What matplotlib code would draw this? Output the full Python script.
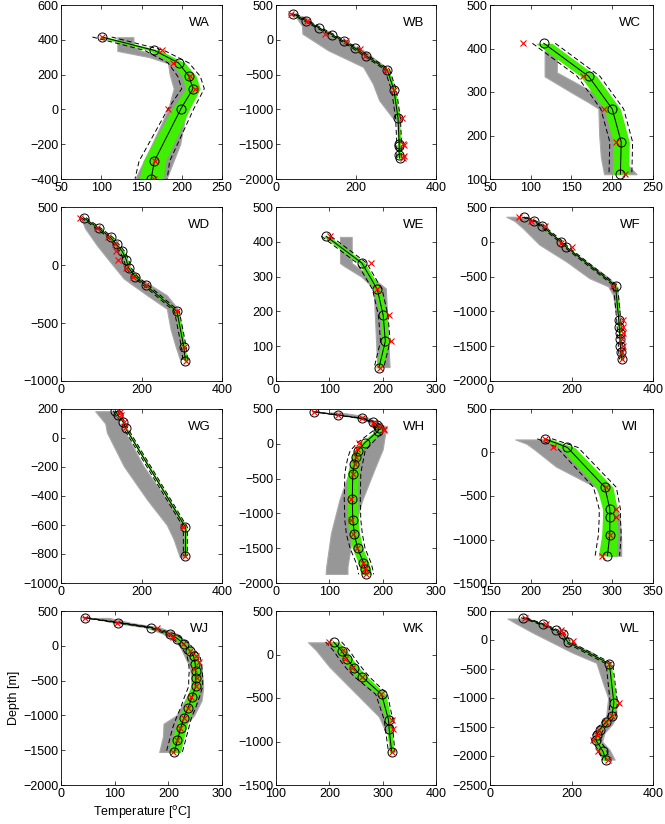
import numpy as np
import matplotlib
matplotlib.use("Agg")
import matplotlib.pyplot as plt

plt.rcParams['font.family'] = ['Liberation Sans', 'DejaVu Sans']
plt.rcParams['font.size'] = 9

# ---- WA ----
wa_z = [416, 339, 267, 190, 119, 4, -297, -398]
wa_t = [101, 166, 196, 209, 214, 199, 166, 162]
wa_xz = [416, 343, 267, 190, 119, 4, -297, -398]
wa_xt = [101, 175, 189, 210, 216, 183, 167, 166]
wa_band = [6, 7, 8, 9, 9, 11, 14, 15]
wa_dash = [12, 12, 13, 14, 14, 16, 19, 20]
wa_gz = [415, 360, 336, 300, 265, 200, 120, 0, -200, -400]
wa_glo = [120, 120, 120, 160, 183, 185, 190, 183, 163, 142]
wa_ghi = [140, 140, 150, 185, 203, 208, 212, 206, 198, 181]

# ---- WB ----
wb_z = [375, 270, 170, 74, -22, -118, -233, -429, -726, -1124, -1490, -1530, -1660, -1700]
wb_t = [43, 76, 108, 140, 170, 197, 226, 278, 295, 305, 308, 308, 308, 309]
wb_xz = [375, 270, 88, -22, -127, -233, -429, -726, -1124, -1490, -1510, -1670, -1700]
wb_xt = [37, 78, 122, 174, 210, 223, 275, 295, 314, 318, 320, 319, 318]
wb_band = 4
wb_dash = 6
wb_gz = [350, 328, 200, 88, -150, -390, -630, -870, -1110, -1180]
wb_glo = [45, 50, 65, 66, 130, 218, 242, 258, 290, 305]
wb_ghi = [55, 74, 100, 130, 218, 274, 286, 298, 310, 315]

# ---- WC ----
wc_z = [412, 336, 261, 185, 111]
wc_t = [116, 171, 200, 211, 210]
wc_xz = [412, 336, 261, 185, 111]
wc_xt = [90, 164, 190, 205, 216]
wc_band = 10
wc_dash = 14
wc_gz = [395, 345, 336, 300, 275, 262, 200, 150, 111]
wc_glo = [117, 117, 117, 149, 172, 183, 184, 186, 190]
wc_ghi = [132, 132, 141, 176, 200, 202, 205, 210, 230]

# ---- WD ----
wd_z = [408, 315, 238, 177, 119, 47, -25, -103, -175, -400, -703, -824]
wd_t = [56, 94, 123, 138, 152, 162, 168, 185, 211, 288, 305, 309]
wd_xz = [408, 315, 238, 177, 119, 47, -25, -103, -175, -400, -703, -824]
wd_xt = [48, 89, 118, 135, 137, 141, 161, 180, 210, 287, 306, 310]
wd_band = 4
wd_dash = 6
wd_gz = [400, 315, 171, 27, -117, -261, -377, -550, -694, -810]
wd_glo = [50, 60, 89, 122, 156, 214, 263, 272, 284, 295]
wd_ghi = [56, 97, 139, 160, 197, 263, 290, 300, 305, 310]

# ---- WE ----
we_z = [416, 339, 263, 189, 114, 38]
we_t = [94, 161, 190, 201, 205, 193]
we_xz = [416, 339, 263, 189, 114, 38]
we_xt = [102, 178, 190, 211, 216, 195]
we_band = 6
we_dash = 9
we_gz = [414, 339, 330, 300, 266, 200, 100, 40]
we_glo = [120, 120, 128, 160, 183, 185, 188, 190]
we_ghi = [142, 142, 150, 178, 206, 208, 211, 213]

# ---- WF ----
wf_z = [355, 297, 225, 0, -74, -629, -1126, -1220, -1310, -1400, -1500, -1590, -1690]
wf_t = [84, 109, 128, 175, 187, 308, 316, 317, 318, 319, 320, 321, 323]
wf_xz = [355, 297, 225, -16, -74, -629, -1126, -1220, -1310, -1400, -1500, -1590, -1690]
wf_xt = [70, 101, 134, 175, 202, 303, 326, 326, 326, 325, 326, 325, 324]
wf_band = 3
wf_dash = 5
wf_gz = [360, 300, 200, -40, -282, -523, -640, -764, -1000]
wf_glo = [40, 60, 80, 121, 187, 244, 290, 302, 308]
wf_ghi = [76, 100, 138, 179, 236, 293, 310, 314, 318]

# ---- WG ----
wg_z = [188, 158, 112, 66, -615, -812]
wg_t = [135, 141, 154, 161, 309, 309]
wg_xz = [177, 158, 112, 66, -615, -812]
wg_xt = [147, 149, 156, 158, 303, 307]
wg_band = 3
wg_dash = 5
wg_gz = [185, 100, 38, -194, -425, -600, -700, -820]
wg_glo = [85, 110, 114, 156, 214, 263, 280, 295]
wg_ghi = [135, 145, 160, 205, 263, 303, 305, 310]

# ---- WH ----
wh_z = [461, 413, 365, 317, 268, 220, 186, 17, -103, -190, -296, -427, -789, -1093, -1300, -1503, -1706, -1793, -1875]
wh_t = [71, 116, 161, 181, 190, 193, 192, 167, 153, 150, 147, 144, 143, 144, 147, 153, 164, 167, 169]
wh_xz = [461, 413, 365, 300, 250, 210, 196, 17, -80, -190, -296, -427, -789, -1093, -1300, -1503, -1706, -1793, -1875]
wh_xt = [71, 117, 162, 182, 193, 203, 203, 156, 151, 150, 148, 145, 140, 141, 144, 151, 164, 167, 169]
wh_band = [2, 2, 3, 3, 4, 5, 6, 8, 8, 9, 9, 10, 10, 10, 10, 10, 10, 10, 10]
wh_dash = [3, 3, 4, 5, 6, 8, 10, 14, 14, 15, 15, 15, 15, 15, 15, 14, 14, 14, 14]
wh_gz = [450, 400, 330, 250, 162, -80, -320, -803, -1286, -1770, -1870]
wh_glo = [100, 140, 170, 185, 187, 162, 141, 119, 103, 94, 93]
wh_ghi = [120, 165, 185, 205, 205, 200, 187, 162, 144, 134, 134]

# ---- WI ----
wi_z = [158, 58, -400, -650, -746, -950, -1188]
wi_t = [217, 245, 291, 297, 297, 297, 294]
wi_xz = [158, 58, -400, -650, -746, -950, -1188]
wi_xt = [217, 227, 292, 305, 304, 297, 287]
wi_band = [6, 9, 10, 9, 9, 10, 11]
wi_dash = [9, 13, 14, 13, 13, 14, 15]
wi_gz = [150, 100, 31, -162, -400, -738, -1000, -1188]
wi_glo = [181, 195, 205, 231, 280, 297, 297, 295]
wi_ghi = [215, 230, 239, 268, 297, 309, 311, 311]

# ---- WJ ----
wj_z = [404, 332, 261, 174, 103, 21, -75, -151, -257, -362, -458, -582, -736, -889, -1033, -1181, -1358, -1531]
wj_t = [44, 107, 168, 203, 217, 230, 240, 247, 250, 251, 251, 251, 244, 237, 229, 223, 217, 211]
wj_xz = [404, 332, 261, 174, 120, 21, -75, -151, -233, -328, -458, -582, -736, -889, -1033, -1181, -1358, -1531]
wj_xt = [45, 104, 178, 201, 209, 227, 240, 251, 257, 247, 253, 251, 242, 237, 229, 222, 217, 208]
wj_band = [2, 3, 4, 5, 6, 7, 8, 8, 8, 8, 9, 9, 10, 10, 10, 10, 11, 11]
wj_dash = [4, 5, 6, 8, 9, 10, 11, 12, 12, 12, 13, 13, 14, 14, 14, 15, 15, 15]
wj_gz = [400, 330, 261, 174, 50, -17, -305, -600, -784, -1000, -1119, -1300, -1526]
wj_glo = [60, 100, 160, 190, 215, 222, 240, 245, 231, 215, 191, 190, 183]
wj_ghi = [90, 130, 185, 215, 235, 240, 262, 265, 262, 248, 234, 228, 222]

# ---- WK ----
wk_z = [145, 42, -57, -160, -256, -458, -752, -851, -1126]
wk_t = [208, 223, 234, 247, 261, 298, 311, 312, 317]
wk_xz = [145, 50, -57, -160, -256, -458, -752, -851, -1126]
wk_xt = [199, 226, 230, 243, 262, 296, 317, 320, 318]
wk_band = [10, 10, 10, 10, 10, 8, 5, 5, 4]
wk_dash = [15, 15, 15, 15, 14, 11, 8, 7, 6]
wk_gz = [140, 50, -141, -332, -523, -714, -880]
wk_glo = [160, 175, 200, 231, 262, 293, 305]
wk_ghi = [212, 225, 250, 275, 300, 312, 316]

# ---- WL ----
wl_z = [385, 270, 172, 97, -35, -410, -1083, -1313, -1411, -1544, -1642, -1716, -1918, -2073]
wl_t = [82, 129, 161, 179, 191, 293, 304, 299, 285, 269, 262, 259, 277, 285]
wl_xz = [385, 270, 172, 120, -18, -410, -1083, -1313, -1411, -1544, -1642, -1716, -1918, -2073]
wl_xt = [87, 138, 175, 178, 203, 293, 316, 299, 284, 268, 262, 253, 265, 289]
wl_band = [3, 3, 3, 4, 4, 5, 6, 6, 6, 6, 7, 7, 7, 6]
wl_dash = [6, 6, 6, 7, 7, 8, 9, 9, 9, 9, 10, 10, 10, 9]
wl_gz = [370, 300, 126, -47, -220, -393, -738, -1000, -1313, -1450, -1600, -1750, -1890, -2062]
wl_glo = [43, 60, 105, 154, 203, 261, 277, 290, 285, 270, 256, 255, 261, 277]
wl_ghi = [93, 120, 170, 199, 252, 285, 302, 310, 310, 300, 281, 275, 293, 306]

names = ['WA', 'WB', 'WC', 'WD', 'WE', 'WF', 'WG', 'WH', 'WI', 'WJ', 'WK', 'WL']
xlims = [(50, 250), (0, 400), (50, 250), (0, 400), (0, 300), (0, 400),
         (0, 400), (0, 300), (150, 350), (0, 300), (100, 400), (0, 400)]
ylims = [(-400, 600), (-2000, 500), (100, 500), (-1000, 500), (0, 500), (-2000, 500),
         (-1000, 200), (-2000, 500), (-1500, 500), (-2000, 500), (-1500, 500), (-2500, 500)]
xsteps = [50, 200, 50, 200, 100, 200, 200, 100, 50, 100, 100, 200]
ysteps = [200, 500, 100, 500, 100, 500, 200, 500, 500, 500, 500, 500]

wells = [
    (wa_z, wa_t, wa_xz, wa_xt, wa_band, wa_dash, wa_gz, wa_glo, wa_ghi),
    (wb_z, wb_t, wb_xz, wb_xt, wb_band, wb_dash, wb_gz, wb_glo, wb_ghi),
    (wc_z, wc_t, wc_xz, wc_xt, wc_band, wc_dash, wc_gz, wc_glo, wc_ghi),
    (wd_z, wd_t, wd_xz, wd_xt, wd_band, wd_dash, wd_gz, wd_glo, wd_ghi),
    (we_z, we_t, we_xz, we_xt, we_band, we_dash, we_gz, we_glo, we_ghi),
    (wf_z, wf_t, wf_xz, wf_xt, wf_band, wf_dash, wf_gz, wf_glo, wf_ghi),
    (wg_z, wg_t, wg_xz, wg_xt, wg_band, wg_dash, wg_gz, wg_glo, wg_ghi),
    (wh_z, wh_t, wh_xz, wh_xt, wh_band, wh_dash, wh_gz, wh_glo, wh_ghi),
    (wi_z, wi_t, wi_xz, wi_xt, wi_band, wi_dash, wi_gz, wi_glo, wi_ghi),
    (wj_z, wj_t, wj_xz, wj_xt, wj_band, wj_dash, wj_gz, wj_glo, wj_ghi),
    (wk_z, wk_t, wk_xz, wk_xt, wk_band, wk_dash, wk_gz, wk_glo, wk_ghi),
    (wl_z, wl_t, wl_xz, wl_xt, wl_band, wl_dash, wl_gz, wl_glo, wl_ghi),
]

W, H = 665, 824
fig = plt.figure(figsize=(W / 100, H / 100), dpi=100)

col_left = [61, 276, 490]
col_w = [161, 160, 163]
row_top = [5, 207, 409, 611]
row_h = 174

gray = '#979797'
green = '#3ff000'

for i, name in enumerate(names):
    r, c = divmod(i, 3)
    ax = fig.add_axes([col_left[c] / W, 1 - (row_top[r] + row_h) / H,
                       col_w[c] / W, row_h / H])
    z, t, xz, xt, band, dash, gz, glo, ghi = wells[i]
    z = np.array(z, float)
    t = np.array(t, float)
    band = np.broadcast_to(np.array(band, float), t.shape)
    dash = np.broadcast_to(np.array(dash, float), t.shape)

    ax.fill_betweenx(gz, glo, ghi, color=gray, lw=0.8, ec='#a8a8a8', zorder=1)
    ax.fill_betweenx(z, t - band, t + band, color=green, lw=0, zorder=2)
    ax.plot(t - dash, z, color='k', lw=0.7, dashes=(5, 3), zorder=3)
    ax.plot(t + dash, z, color='k', lw=0.7, dashes=(5, 3), zorder=3)
    ax.plot(t, z, color='k', lw=0.7, marker='o', ms=6.5, mfc='none', mew=0.7, zorder=4)
    ax.plot(xt, xz, ls='none', marker='x', color='red', ms=5, mew=0.8, zorder=5)

    ax.set_xlim(*xlims[i])
    ax.set_ylim(*ylims[i])
    ax.set_xticks(np.arange(xlims[i][0], xlims[i][1] + 1, xsteps[i]))
    ax.set_yticks(np.arange(ylims[i][0], ylims[i][1] + 1, ysteps[i]))
    ax.tick_params(direction='in', top=True, right=True, length=3, width=0.5,
                   labelsize=9, pad=2)
    for s in ax.spines.values():
        s.set_linewidth(0.6)
    ax.text(0.86, 0.895, name, transform=ax.transAxes, ha='center', va='center',
            fontsize=9.5)
    if name == 'WJ':
        ax.set_ylabel('Depth [m]', fontsize=9, labelpad=2)
        ax.set_xlabel('Temperature [$^{\\rm o}$C]', fontsize=9, labelpad=3)

fig.savefig('out.png', dpi=100)
